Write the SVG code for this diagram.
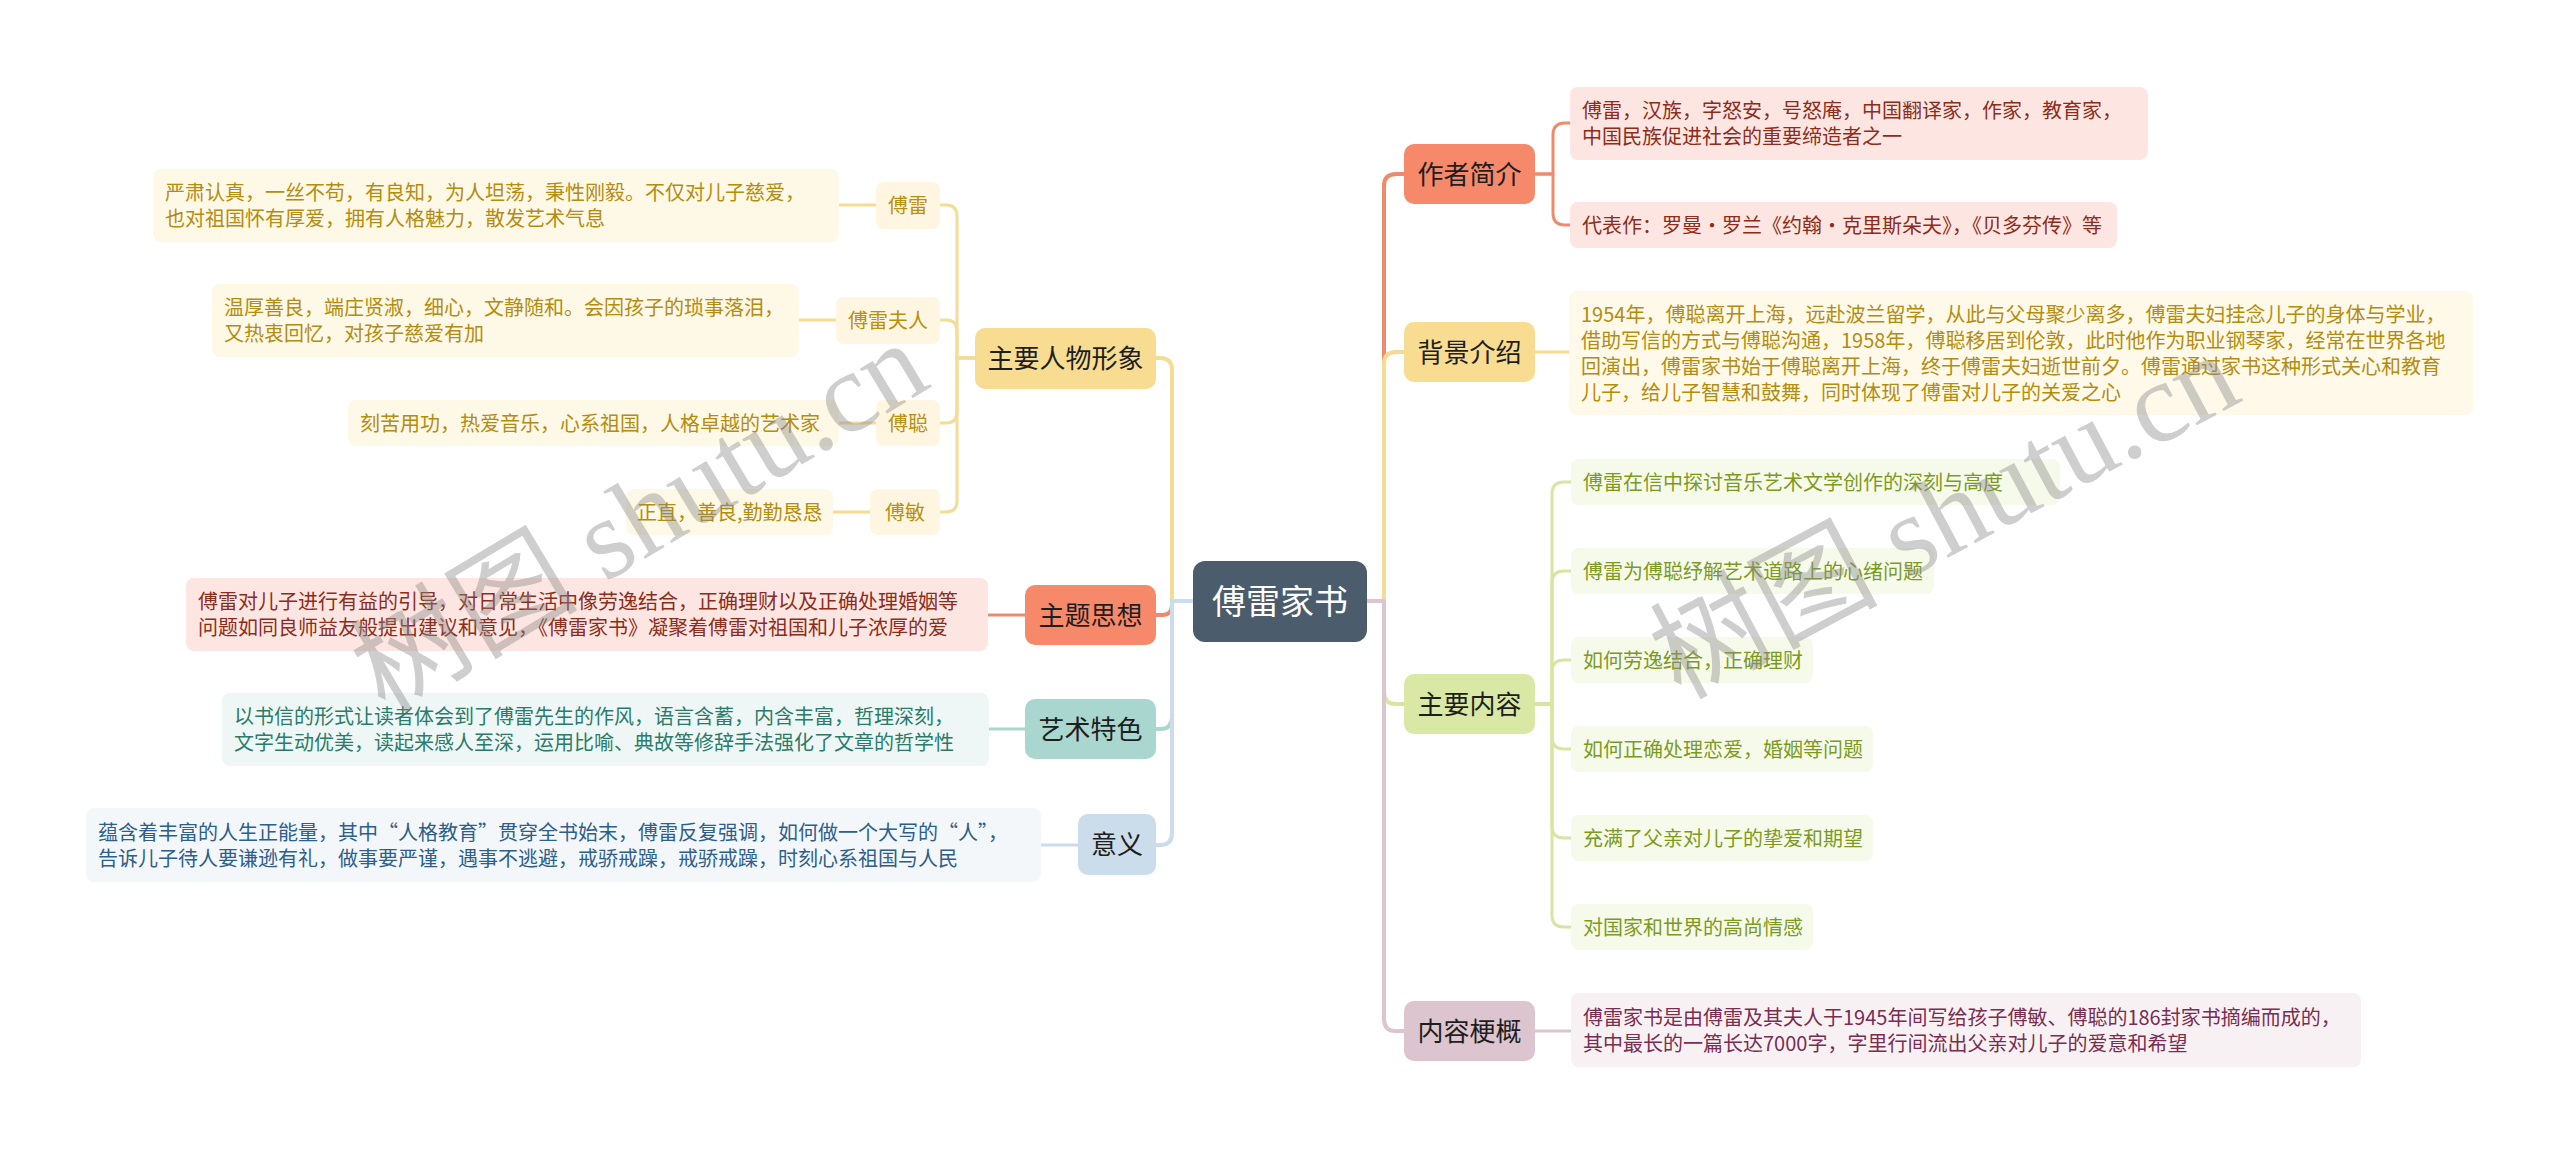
<svg xmlns="http://www.w3.org/2000/svg" width="2560" height="1153" viewBox="0 0 2560 1153">
<style>
text{font-family:"Noto Sans CJK SC","Liberation Sans",sans-serif}
.c{fill:none;stroke-linecap:round;stroke-linejoin:round}
.m{stroke-width:4}
.l{stroke-width:3}
.nt{font-size:26px;fill:#1e1e1e;text-anchor:middle}
.lt{font-size:20px}
.st{font-size:20px;text-anchor:middle;fill:#b8900f}
.red{fill:#8c2c1a}.gold{fill:#b38c10}.grn{fill:#7d9a1e}.mau{fill:#7a2d50}.tea{fill:#2b7b6b}.blu{fill:#2d5e8c}
.wm{font-family:"Liberation Serif","Noto Sans CJK SC",serif;font-size:114px;fill:#8a8a8a;fill-opacity:0.42}
</style>
<rect width="2560" height="1153" fill="#ffffff"/>
<g id="connectors">
<path class="c m" stroke="#ef8a6c" d="M1367,601 H1384 V186 Q1384,174 1396,174 H1404"/>
<path class="c m" stroke="#f5dc95" d="M1367,601 H1384 V364 Q1384,352 1396,352 H1404"/>
<path class="c m" stroke="#d6e6a2" d="M1367,601 H1384 V692 Q1384,704 1396,704 H1404"/>
<path class="c m" stroke="#dcc5cf" d="M1367,601 H1384 V1019 Q1384,1031 1396,1031 H1404"/>
<path class="c m" stroke="#f5dc95" d="M1193,601 H1172 V370 Q1172,358 1160,358 H1156"/>
<path class="c m" stroke="#ef8a6c" d="M1193,601 H1172 V605 Q1172,615 1162,615 H1156"/>
<path class="c m" stroke="#a9d7cf" d="M1193,601 H1172 V717 Q1172,729 1160,729 H1156"/>
<path class="c m" stroke="#cbdcea" d="M1193,601 H1172 V833 Q1172,845 1160,845 H1156"/>
<path class="c l" stroke="#ef8a6c" d="M1535,174 H1553 V135 Q1553,123 1565,123 H1570"/>
<path class="c l" stroke="#ef8a6c" d="M1535,174 H1553 V213 Q1553,225 1565,225 H1570"/>
<path class="c l" stroke="#f5dc95" d="M1535,352 H1569"/>
<path class="c l" stroke="#d6e6a2" d="M1535,704 H1552 V494 Q1552,482 1564,482 H1571"/>
<path class="c l" stroke="#d6e6a2" d="M1535,704 H1552 V583 Q1552,571 1564,571 H1571"/>
<path class="c l" stroke="#d6e6a2" d="M1535,704 H1552 V672 Q1552,660 1564,660 H1571"/>
<path class="c l" stroke="#d6e6a2" d="M1535,704 H1552 V737 Q1552,749 1564,749 H1571"/>
<path class="c l" stroke="#d6e6a2" d="M1535,704 H1552 V826 Q1552,838 1564,838 H1571"/>
<path class="c l" stroke="#d6e6a2" d="M1535,704 H1552 V915 Q1552,927 1564,927 H1571"/>
<path class="c l" stroke="#dcc5cf" d="M1535,1031 H1571"/>
<path class="c l" stroke="#f5dc95" d="M975,358 H957 V216 Q957,205 946,205 H940"/>
<path class="c l" stroke="#f5dc95" d="M975,358 H957 V331 Q957,320 946,320 H940"/>
<path class="c l" stroke="#f5dc95" d="M975,358 H957 V412 Q957,423 946,423 H940"/>
<path class="c l" stroke="#f5dc95" d="M975,358 H957 V501 Q957,512 946,512 H940"/>
<path class="c l" stroke="#f5dc95" d="M839,205 H876"/>
<path class="c l" stroke="#f5dc95" d="M799,320 H836"/>
<path class="c l" stroke="#f5dc95" d="M839,423 H876"/>
<path class="c l" stroke="#f5dc95" d="M833,512 H870"/>
<path class="c l" stroke="#ef8a6c" d="M1025,615 H988"/>
<path class="c l" stroke="#a9d7cf" d="M1025,729 H989"/>
<path class="c l" stroke="#cbdcea" d="M1078,845 H1041"/>
</g>
<g id="center">
<rect x="1193" y="561" width="174" height="81" rx="12" fill="#4b5c6c"/>
<text x="1280" y="614" font-size="34" fill="#ffffff" text-anchor="middle">傅雷家书</text>
</g>
<g id="n-author">
<rect x="1404" y="144" width="131" height="60" rx="10" fill="#f7896b"/>
<text class="nt" x="1469.5" y="184">作者简介</text>
</g>
<g id="n-author-1">
<rect x="1570" y="87" width="578" height="73" rx="8" fill="#fde6e1"/>
<text class="lt red" x="1582" y="118">傅雷，汉族，字怒安，号怒庵，中国翻译家，作家，教育家，</text>
<text class="lt red" x="1582" y="144">中国民族促进社会的重要缔造者之一</text>
</g>
<g id="n-author-2">
<rect x="1570" y="202" width="547" height="46" rx="8" fill="#fde6e1"/>
<text class="lt red" x="1582" y="233">代表作：罗曼·罗兰《约翰·克里斯朵夫》，《贝多芬传》等</text>
</g>
<g id="n-bg">
<rect x="1404" y="322" width="131" height="60" rx="10" fill="#f8dc91"/>
<text class="nt" x="1469.5" y="362">背景介绍</text>
</g>
<g id="n-bg-1">
<rect x="1569" y="291" width="904" height="124" rx="8" fill="#fef9e8"/>
<text class="lt gold" x="1581" y="322">1954年，傅聪离开上海，远赴波兰留学，从此与父母聚少离多，傅雷夫妇挂念儿子的身体与学业，</text>
<text class="lt gold" x="1581" y="348">借助写信的方式与傅聪沟通，1958年，傅聪移居到伦敦，此时他作为职业钢琴家，经常在世界各地</text>
<text class="lt gold" x="1581" y="374">回演出，傅雷家书始于傅聪离开上海，终于傅雷夫妇逝世前夕。傅雷通过家书这种形式关心和教育</text>
<text class="lt gold" x="1581" y="400">儿子，给儿子智慧和鼓舞，同时体现了傅雷对儿子的关爱之心</text>
</g>
<g id="n-main">
<rect x="1404" y="674" width="131" height="60" rx="10" fill="#d9e8a4"/>
<text class="nt" x="1469.5" y="714">主要内容</text>
</g>
<g id="n-main-1"><rect x="1571" y="459" width="489" height="46" rx="8" fill="#f6faea"/><text class="lt grn" x="1583" y="490">傅雷在信中探讨音乐艺术文学创作的深刻与高度</text></g>
<g id="n-main-2"><rect x="1571" y="548" width="363" height="46" rx="8" fill="#f6faea"/><text class="lt grn" x="1583" y="579">傅雷为傅聪纾解艺术道路上的心绪问题</text></g>
<g id="n-main-3"><rect x="1571" y="637" width="242" height="46" rx="8" fill="#f6faea"/><text class="lt grn" x="1583" y="668">如何劳逸结合，正确理财</text></g>
<g id="n-main-4"><rect x="1571" y="726" width="302" height="46" rx="8" fill="#f6faea"/><text class="lt grn" x="1583" y="757">如何正确处理恋爱，婚姻等问题</text></g>
<g id="n-main-5"><rect x="1571" y="815" width="302" height="46" rx="8" fill="#f6faea"/><text class="lt grn" x="1583" y="846">充满了父亲对儿子的挚爱和期望</text></g>
<g id="n-main-6"><rect x="1571" y="904" width="242" height="46" rx="8" fill="#f6faea"/><text class="lt grn" x="1583" y="935">对国家和世界的高尚情感</text></g>
<g id="n-summary">
<rect x="1404" y="1001" width="131" height="60" rx="10" fill="#dcc5cf"/>
<text class="nt" x="1469.5" y="1041">内容梗概</text>
</g>
<g id="n-summary-1">
<rect x="1571" y="993" width="790" height="74" rx="8" fill="#f8f1f4"/>
<text class="lt mau" x="1583" y="1025">傅雷家书是由傅雷及其夫人于1945年间写给孩子傅敏、傅聪的186封家书摘编而成的，</text>
<text class="lt mau" x="1583" y="1051">其中最长的一篇长达7000字，字里行间流出父亲对儿子的爱意和希望</text>
</g>
<g id="n-chars">
<rect x="975" y="328" width="181" height="61" rx="10" fill="#f8dc91"/>
<text class="nt" x="1065.5" y="368">主要人物形象</text>
</g>
<g id="n-fulei">
<rect x="876" y="182" width="64" height="47" rx="8" fill="#fef6e0"/>
<text class="st" x="908" y="213">傅雷</text>
</g>
<g id="n-fulei-1">
<rect x="153" y="169" width="686" height="73" rx="8" fill="#fef8e6"/>
<text class="lt gold" x="165" y="200">严肃认真，一丝不苟，有良知，为人坦荡，秉性刚毅。不仅对儿子慈爱，</text>
<text class="lt gold" x="165" y="226">也对祖国怀有厚爱，拥有人格魅力，散发艺术气息</text>
</g>
<g id="n-furen">
<rect x="836" y="297" width="104" height="47" rx="8" fill="#fef6e0"/>
<text class="st" x="888" y="328">傅雷夫人</text>
</g>
<g id="n-furen-1">
<rect x="212" y="284" width="587" height="73" rx="8" fill="#fef8e6"/>
<text class="lt gold" x="224" y="315">温厚善良，端庄贤淑，细心，文静随和。会因孩子的琐事落泪，</text>
<text class="lt gold" x="224" y="341">又热衷回忆，对孩子慈爱有加</text>
</g>
<g id="n-fucong">
<rect x="876" y="400" width="64" height="46" rx="8" fill="#fef6e0"/>
<text class="st" x="908" y="431">傅聪</text>
</g>
<g id="n-fucong-1">
<rect x="348" y="400" width="491" height="46" rx="8" fill="#fef8e6"/>
<text class="lt gold" x="360" y="431">刻苦用功，热爱音乐，心系祖国，人格卓越的艺术家</text>
</g>
<g id="n-fumin">
<rect x="870" y="489" width="70" height="46" rx="8" fill="#fef6e0"/>
<text class="st" x="905" y="520">傅敏</text>
</g>
<g id="n-fumin-1">
<rect x="626" y="489" width="207" height="46" rx="8" fill="#fef8e6"/>
<text class="lt gold" x="637" y="520">正直，善良,勤勤恳恳</text>
</g>
<g id="n-theme">
<rect x="1025" y="585" width="131" height="60" rx="10" fill="#f7896b"/>
<text class="nt" x="1090.5" y="625">主题思想</text>
</g>
<g id="n-theme-1">
<rect x="186" y="578" width="802" height="73" rx="8" fill="#fde6e1"/>
<text class="lt red" x="198" y="609">傅雷对儿子进行有益的引导，对日常生活中像劳逸结合，正确理财以及正确处理婚姻等</text>
<text class="lt red" x="198" y="635">问题如同良师益友般提出建议和意见，《傅雷家书》凝聚着傅雷对祖国和儿子浓厚的爱</text>
</g>
<g id="n-art">
<rect x="1025" y="699" width="131" height="60" rx="10" fill="#a9d7cf"/>
<text class="nt" x="1090.5" y="739">艺术特色</text>
</g>
<g id="n-art-1">
<rect x="222" y="693" width="767" height="73" rx="8" fill="#eef7f5"/>
<text class="lt tea" x="234" y="724">以书信的形式让读者体会到了傅雷先生的作风，语言含蓄，内含丰富，哲理深刻，</text>
<text class="lt tea" x="234" y="750">文字生动优美，读起来感人至深，运用比喻、典故等修辞手法强化了文章的哲学性</text>
</g>
<g id="n-meaning">
<rect x="1078" y="814" width="78" height="61" rx="10" fill="#cbdcea"/>
<text class="nt" x="1117" y="854">意义</text>
</g>
<g id="n-meaning-1">
<rect x="86" y="808" width="955" height="74" rx="8" fill="#f3f7fa"/>
<text class="lt blu" x="98" y="840">蕴含着丰富的人生正能量，其中“人格教育”贯穿全书始末，傅雷反复强调，如何做一个大写的“人”，</text>
<text class="lt blu" x="98" y="866">告诉儿子待人要谦逊有礼，做事要严谨，遇事不逃避，戒骄戒躁，戒骄戒躁，时刻心系祖国与人民</text>
</g>
<g id="watermark">
<text class="wm" transform="translate(385,715) rotate(-31)">树图 shutu.cn</text>
<text class="wm" transform="translate(1680,700) rotate(-28)">树图 shutu.cn</text>
</g>
</svg>
